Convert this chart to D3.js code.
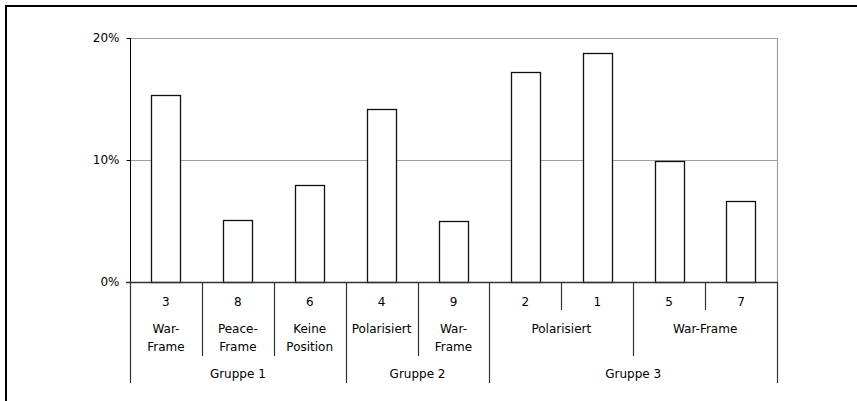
<!DOCTYPE html>
<html>
<head>
<meta charset="utf-8">
<script src="https://cdn.jsdelivr.net/npm/d3@7"></script>
<style>
  html, body { margin: 0; padding: 0; background: #fff; }
  svg { display: block; }
  text { font-family: "DejaVu Sans", Verdana, sans-serif; font-size: 12px; fill: #000; }
</style>
</head>
<body>
<svg id="chart" width="857" height="401"></svg>
<script>
// ---- data ----
const codes = ["3", "8", "6", "4", "9", "2", "1", "5", "7"];
const values = [15.3, 5.1, 7.95, 14.15, 5.0, 17.25, 18.8, 9.9, 6.6];
const frameLabels = [["War-", "Frame"], ["Peace-", "Frame"], ["Keine", "Position"], ["Polarisiert"], ["War-", "Frame"], ["Polarisiert"], ["War-Frame"]];
const frameSpans = [1, 1, 1, 1, 1, 2, 2];
const groupLabels = ["Gruppe 1", "Gruppe 2", "Gruppe 3"];
const groupSpans = [3, 2, 4];
const yTicks = [0, 10, 20];

// ---- layout ----
const svg = d3.select("#chart");
const pLeft = 130, pRight = 777, pTop = 38, pBottom = 282;
const row1 = 310, row2 = 356, row3 = 383;

const x = d3.scaleBand().domain(d3.range(codes.length)).range([pLeft, pRight]).paddingInner(0).paddingOuter(0);
const y = d3.scaleLinear().domain([0, 20]).range([pBottom, pTop]);
const barW = x.bandwidth() * 0.405;

// outer frame (left + top visible)
svg.append("rect").attr("x", 6).attr("y", 6).attr("width", 900).attr("height", 500)
  .attr("fill", "none").attr("stroke", "#000").attr("stroke-width", 2);

// gridlines
svg.append("g").selectAll("line").data(yTicks.filter(d => d > 0)).join("line")
  .attr("x1", pLeft).attr("x2", pRight)
  .attr("y1", d => Math.round(y(d)) + 0.5).attr("y2", d => Math.round(y(d)) + 0.5)
  .attr("stroke", "#a0a0a0").attr("stroke-width", 1.2);

// plot right border
svg.append("line").attr("x1", pRight + 0.5).attr("x2", pRight + 0.5).attr("y1", pTop).attr("y2", pBottom)
  .attr("stroke", "#a0a0a0").attr("stroke-width", 1.2);

// bars
svg.append("g").selectAll("rect").data(values).join("rect")
  .attr("x", (d, i) => Math.round(x(i) + (x.bandwidth() - barW) / 2) + 0.5)
  .attr("y", d => Math.round(y(d)) + 0.5)
  .attr("width", Math.round(barW))
  .attr("height", d => Math.round(y(0)) - Math.round(y(d)))
  .attr("fill", "#fff").attr("stroke", "#111").attr("stroke-width", 1.3);

// y axis
const yAxis = d3.axisLeft(y).tickValues(yTicks).tickFormat(d => d + "%").tickSize(4).tickPadding(7);
const ya = svg.append("g").attr("transform", `translate(${pLeft + 0.5},0)`).call(yAxis);
ya.select(".domain").attr("stroke", "#000").attr("d", `M0,${pTop}V${pBottom}`);
ya.selectAll(".tick line").attr("stroke", "#000");
ya.selectAll(".tick text").style("font-family", "DejaVu Sans, Verdana, sans-serif").style("font-size", "12px").attr("fill", "#000");

// baseline
svg.append("line").attr("x1", pLeft - 4).attr("x2", pRight + 1).attr("y1", pBottom + 0.5).attr("y2", pBottom + 0.5)
  .attr("stroke", "#333").attr("stroke-width", 1.3);

// category boundary lines
const frameEnds = d3.cumsum(frameSpans);
const groupEnds = d3.cumsum(groupSpans);
const boundaries = d3.range(codes.length + 1).map(b => {
  let depth = row1;
  if (b === 0 || b === codes.length || groupEnds.includes(b)) depth = row3;
  else if (frameEnds.includes(b)) depth = row2;
  return { b, depth };
});
const bx = b => b < codes.length ? x(b) : pRight;
svg.append("g").selectAll("line").data(boundaries).join("line")
  .attr("x1", d => Math.round(bx(d.b)) + 0.5).attr("x2", d => Math.round(bx(d.b)) + 0.5)
  .attr("y1", pBottom).attr("y2", d => d.depth)
  .attr("stroke", "#333").attr("stroke-width", 1.2);

// code labels
svg.append("g").selectAll("text").data(codes).join("text")
  .attr("x", (d, i) => x(i) + x.bandwidth() / 2).attr("y", 306)
  .attr("text-anchor", "middle").text(d => d);

// frame labels
const frameStarts = frameSpans.map((s, i) => frameEnds[i] - s);
const fg = svg.append("g");
frameLabels.forEach((lines, i) => {
  const cx = (bx(frameStarts[i]) + bx(frameEnds[i])) / 2;
  lines.forEach((t, j) => {
    fg.append("text").attr("x", cx).attr("y", 333 + j * 18).attr("text-anchor", "middle").text(t);
  });
});

// group labels
const groupStarts = groupSpans.map((s, i) => groupEnds[i] - s);
svg.append("g").selectAll("text").data(groupLabels).join("text")
  .attr("x", (d, i) => (bx(groupStarts[i]) + bx(groupEnds[i])) / 2).attr("y", 378)
  .attr("text-anchor", "middle").text(d => d);
</script>
</body>
</html>
